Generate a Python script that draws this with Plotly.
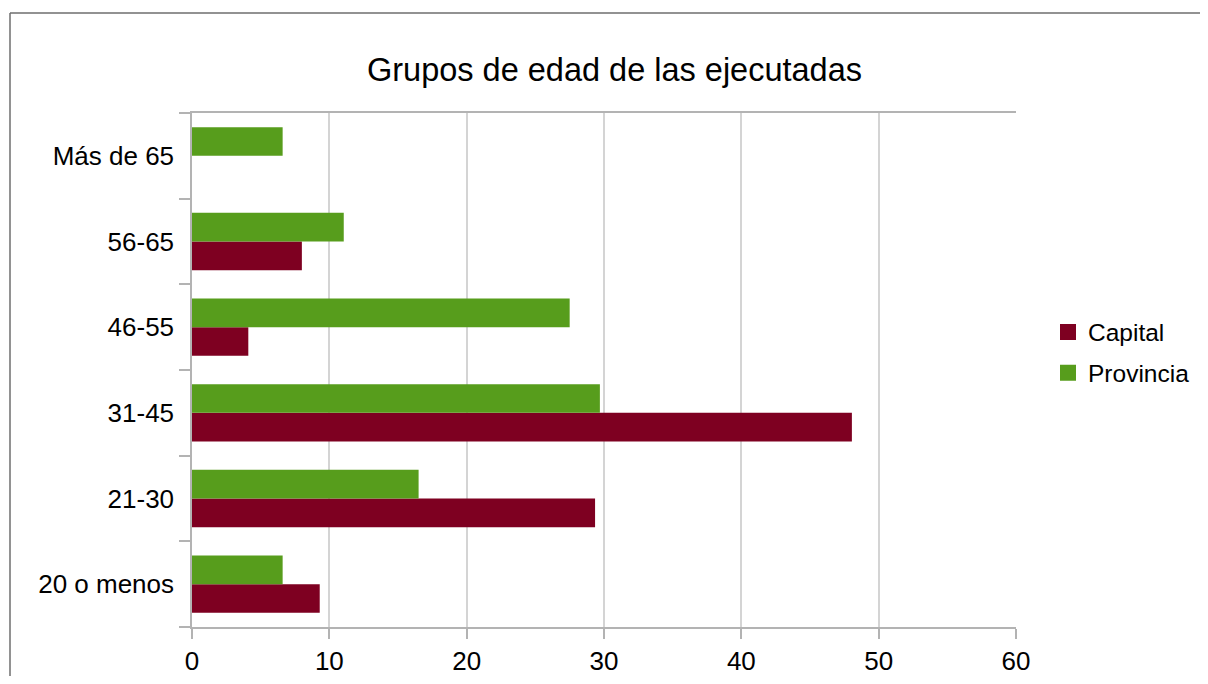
import plotly.graph_objects as go

categorias = ["20 o menos", "21-30", "31-45", "46-55", "56-65", "Más de 65"]
capital = [9.3, 29.35, 48.05, 4.1, 8.0, 0]
provincia = [6.6, 16.5, 29.7, 27.5, 11.05, 6.6]

COL_CAPITAL = "#7e0021"
COL_PROVINCIA = "#579d1c"
COL_AXIS = "#b3b3b3"
COL_GRID = "#d4d4d4"
FONT = "Liberation Sans"

# page body has an 8px margin, so the figure is laid out 8px up/left of the screen coords
W, H = 1200, 668
L, T = 184, 105
PW, PH = 824, 514

fig = go.Figure()
fig.add_trace(go.Bar(y=categorias, x=capital, orientation="h", name="Capital",
                     marker={"color": COL_CAPITAL, "line": {"width": 0}}, showlegend=False))
fig.add_trace(go.Bar(y=categorias, x=provincia, orientation="h", name="Provincia",
                     marker={"color": COL_PROVINCIA, "line": {"width": 0}}, showlegend=False))

# legend proxies so the swatches are big squares like the original
for name, col in [("Capital", COL_CAPITAL), ("Provincia", COL_PROVINCIA)]:
    fig.add_trace(go.Scatter(x=[None], y=[None], mode="markers", name=name, legendgroup=name,
                             marker={"color": col, "size": 16, "symbol": "square"}))

# outer chart frame: only the top and left edges are inside the picture
fx0 = (2 - L) / PW
fx1 = (W + 20 - L) / PW
fy0 = (T + PH - H - 20) / PH
fy1 = 1 + (T - 5) / PH
frame = {"color": "#6e6e6e", "width": 1.5}
fig.add_shape(type="line", xref="paper", yref="paper", x0=fx0, x1=fx1, y0=fy1, y1=fy1, line=frame)
fig.add_shape(type="line", xref="paper", yref="paper", x0=fx0, x1=fx0, y0=fy0, y1=fy1, line=frame)

fig.update_layout(
    width=W, height=H,
    barmode="group", bargap=0.33, bargroupgap=0,
    paper_bgcolor="white", plot_bgcolor="white",
    font={"family": FONT, "color": "black", "size": 26},
    margin={"l": L, "r": W - L - PW, "t": T, "b": H - T - PH, "autoexpand": False},
    title={"text": "Grupos de edad de las ejecutadas", "font": {"size": 32.5, "family": FONT},
           "xref": "container", "x": 606.5 / W, "xanchor": "center",
           "yref": "container", "y": 1 - 62 / H, "yanchor": "middle"},
    xaxis={"range": [0, 60], "dtick": 10, "showgrid": True, "gridcolor": COL_GRID, "gridwidth": 1.5,
           "showline": True, "linecolor": COL_AXIS, "linewidth": 1.5, "mirror": True,
           "ticks": "outside", "ticklen": 10, "tickcolor": COL_AXIS, "tickwidth": 1.5,
           "zeroline": False, "tickfont": {"size": 26}, "fixedrange": True, "automargin": False},
    yaxis={"type": "category", "categoryorder": "array", "categoryarray": categorias,
           "tickson": "boundaries", "ticks": "outside", "ticklen": 11, "tickcolor": COL_AXIS,
           "tickwidth": 1.5, "showgrid": False, "showline": True, "linecolor": COL_AXIS,
           "linewidth": 1.5, "ticklabelstandoff": 11, "tickfont": {"size": 26}, "fixedrange": True,
           "automargin": False},
    legend={"x": (1040 - L) / PW, "xanchor": "left", "y": (T + PH - 344.5) / PH, "yanchor": "middle",
            "font": {"size": 24.5}, "tracegroupgap": 6, "bgcolor": "rgba(0,0,0,0)"},
)

fig.write_html("out.html")
